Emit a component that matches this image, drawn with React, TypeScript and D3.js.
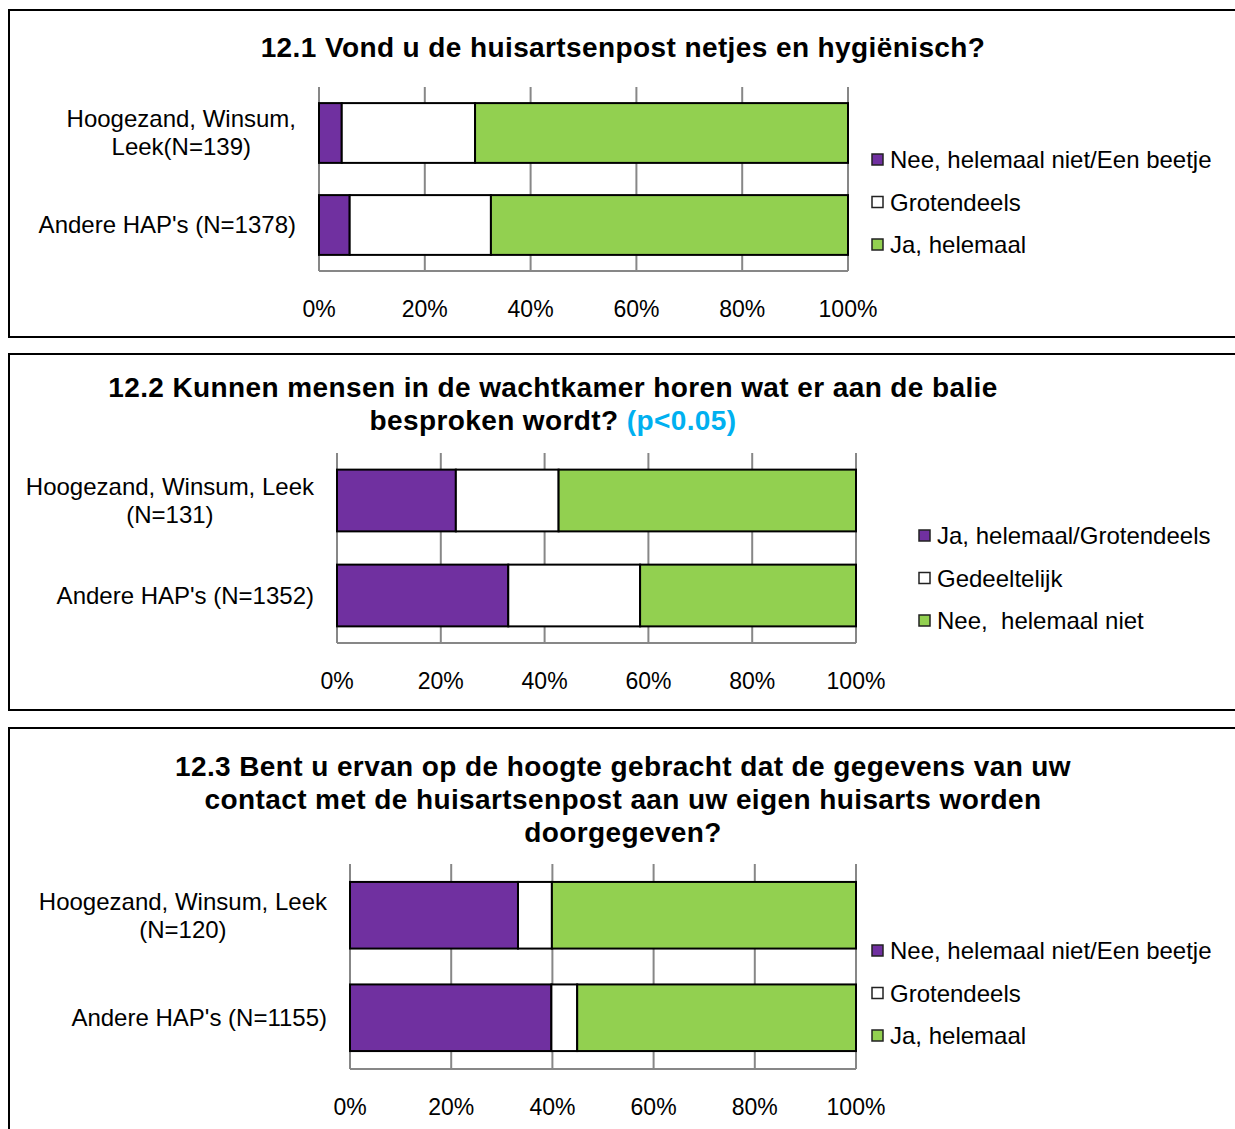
import React, { useEffect, useRef } from 'react';
import * as d3 from 'd3';

const FONT = '"Liberation Sans", Arial, sans-serif';

// shared
const tickValues = [0, 20, 40, 60, 80, 100];
const barColors = ['#7030A0', '#FFFFFF', '#92D050'];

// 12.1
const q1Title = ['12.1 Vond u de huisartsenpost netjes en hygiënisch?'];
const q1Categories = [['Hoogezand, Winsum,', 'Leek(N=139)'], ["Andere HAP's (N=1378)"]];
const q1Series = ['Nee, helemaal niet/Een beetje', 'Grotendeels', 'Ja, helemaal'];
const q1Values = [
  [4.3, 25.2, 70.5],
  [5.8, 26.7, 67.5],
];

// 12.2
const q2Title = ['12.2 Kunnen mensen in de wachtkamer horen wat er aan de balie', 'besproken wordt?'];
const q2Note = '(p<0.05)';
const q2Categories = [['Hoogezand, Winsum, Leek', '(N=131)'], ["Andere HAP's (N=1352)"]];
const q2Series = ['Ja, helemaal/Grotendeels', 'Gedeeltelijk', 'Nee,  helemaal niet'];
const q2Values = [
  [22.9, 19.8, 57.3],
  [33.0, 25.4, 41.6],
];

// 12.3
const q3Title = [
  '12.3 Bent u ervan op de hoogte gebracht dat de gegevens van uw',
  'contact met de huisartsenpost aan uw eigen huisarts worden',
  'doorgegeven?',
];
const q3Categories = [['Hoogezand, Winsum, Leek', '(N=120)'], ["Andere HAP's (N=1155)"]];
const q3Series = ['Nee, helemaal niet/Een beetje', 'Grotendeels', 'Ja, helemaal'];
const q3Values = [
  [33.2, 6.7, 60.1],
  [39.8, 5.1, 55.1],
];

const charts = [
  {
    title: q1Title, note: null, categories: q1Categories, series: q1Series, values: q1Values,
    panel: { y: 10, h: 327 }, plot: { x0: 319, x1: 848, y0: 87, y1: 271 },
    titleX: 623, titleY: 47, legend: { x: 872, y: 160 },
  },
  {
    title: q2Title, note: q2Note, categories: q2Categories, series: q2Series, values: q2Values,
    panel: { y: 354, h: 356 }, plot: { x0: 337, x1: 856, y0: 453, y1: 643 },
    titleX: 553, titleY: 387, legend: { x: 919, y: 536 },
  },
  {
    title: q3Title, note: null, categories: q3Categories, series: q3Series, values: q3Values,
    panel: { y: 728, h: 420 }, plot: { x0: 350, x1: 856, y0: 864, y1: 1069 },
    titleX: 623, titleY: 766, legend: { x: 872, y: 951 },
  },
];

function drawChart(svg: any, c: any) {
  const g = svg.append('g');

  g.append('rect')
    .attr('x', 9).attr('y', c.panel.y)
    .attr('width', 1240).attr('height', c.panel.h)
    .attr('fill', '#fff').attr('stroke', '#000').attr('stroke-width', 2);

  // title
  c.title.forEach((line: string, i: number) => {
    const t = g.append('text')
      .attr('x', c.titleX).attr('y', c.titleY + i * 33)
      .attr('dy', '0.35em')
      .attr('text-anchor', 'middle')
      .style('font-family', FONT).style('font-weight', 'bold').style('font-size', '28px')
      .style('letter-spacing', '0.4px')
      .text(line);
    if (c.note && i === c.title.length - 1) {
      t.append('tspan').attr('fill', '#00B0F0').text(' ' + c.note);
    }
  });

  const x = d3.scaleLinear().domain([0, 100]).range([c.plot.x0, c.plot.x1]);
  const y = d3.scaleBand<number>()
    .domain(c.categories.map((_: any, i: number) => i))
    .range([c.plot.y0, c.plot.y1])
    .paddingInner(0.35).paddingOuter(0.175);

  // gridlines
  g.append('g').selectAll('line').data(tickValues).join('line')
    .attr('x1', (d: number) => x(d)).attr('x2', (d: number) => x(d))
    .attr('y1', c.plot.y0).attr('y2', c.plot.y1)
    .attr('stroke', '#878787').attr('stroke-width', 2);

  g.append('line')
    .attr('x1', c.plot.x0).attr('x2', c.plot.x1)
    .attr('y1', c.plot.y1).attr('y2', c.plot.y1)
    .attr('stroke', '#878787').attr('stroke-width', 2);

  // stacked bars
  const keys = c.series.map((_: any, i: number) => i);
  const stacked = d3.stack<any, number>()
    .keys(keys)
    .value((d: number[], k: number) => d[k])(c.values);

  stacked.forEach((layer: any, si: number) => {
    g.append('g').selectAll('rect').data(layer).join('rect')
      .attr('x', (d: any) => x(d[0]))
      .attr('width', (d: any) => x(d[1]) - x(d[0]))
      .attr('y', (_: any, i: number) => y(i))
      .attr('height', y.bandwidth())
      .attr('fill', barColors[si])
      .attr('stroke', '#000').attr('stroke-width', 2);
  });

  // x tick labels
  g.append('g').selectAll('text').data(tickValues).join('text')
    .attr('x', (d: number) => x(d)).attr('y', c.plot.y1 + 38)
    .attr('dy', '0.35em').attr('text-anchor', 'middle')
    .style('font-family', FONT).style('font-size', '23px')
    .text((d: number) => d + '%');

  // category labels
  c.categories.forEach((lines: string[], i: number) => {
    const cy = (y(i) as number) + y.bandwidth() / 2;
    const lg = g.append('g');
    const texts = lines.map((line, j) =>
      lg.append('text')
        .attr('x', 0).attr('y', (j - (lines.length - 1) / 2) * 28)
        .attr('dy', '0.35em').attr('text-anchor', 'middle')
        .style('font-family', FONT).style('font-size', '24px')
        .text(line)
    );
    const w = d3.max(texts, (t) => (t.node() as SVGTextElement).getComputedTextLength()) || 0;
    lg.attr('transform', `translate(${c.plot.x0 - 23 - w / 2},${cy})`);
  });

  // legend
  const leg = g.append('g').attr('transform', `translate(${c.legend.x},${c.legend.y})`);
  c.series.forEach((s: string, i: number) => {
    const row = leg.append('g').attr('transform', `translate(0,${i * 42.5})`);
    row.append('rect')
      .attr('x', 0).attr('y', -6).attr('width', 11).attr('height', 11)
      .attr('fill', barColors[i]).attr('stroke', '#222').attr('stroke-width', 1.5);
    row.append('text')
      .attr('x', 18).attr('y', 0).attr('dy', '0.35em')
      .style('font-family', FONT).style('font-size', '24px').style('white-space', 'pre')
      .text(s);
  });
}

export default function App() {
  const svgRef = useRef<SVGSVGElement>(null);

  useEffect(() => {
    const svg = d3.select(svgRef.current);
    svg.selectAll('*').remove();
    svg.append('rect').attr('width', 1235).attr('height', 1129).attr('fill', '#fff');
    charts.forEach((c) => drawChart(svg, c));
  }, []);

  return (
    <svg
      ref={svgRef}
      width={1235}
      height={1129}
      style={{ position: 'absolute', left: 0, top: 0, display: 'block' }}
    />
  );
}
